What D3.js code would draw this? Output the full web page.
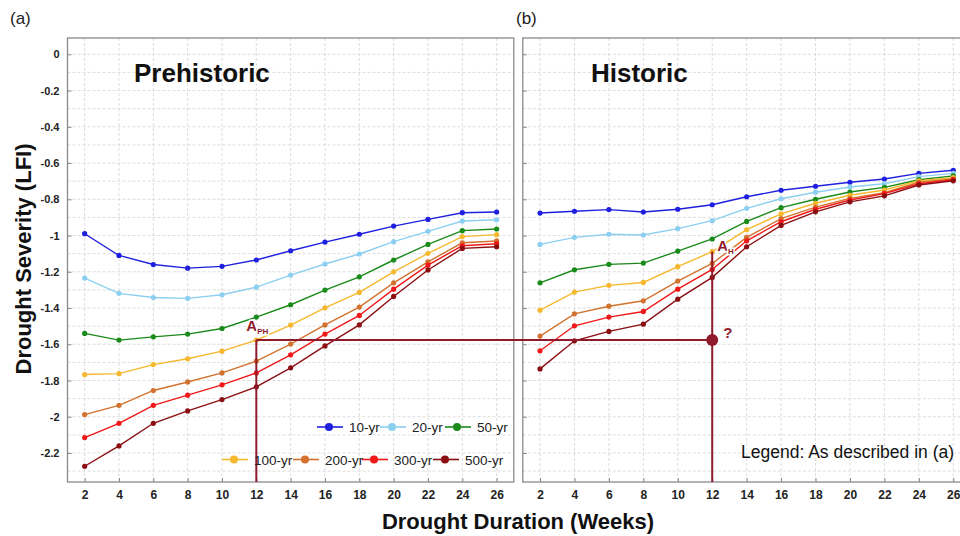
<!DOCTYPE html>
<html><head><meta charset="utf-8">
<script src="https://cdn.jsdelivr.net/npm/d3@7"></script>
<style>
body{margin:0;background:#fff;}
svg{display:block;font-family:"Liberation Sans",Arial,sans-serif;}
</style></head>
<body><svg id="c" width="960" height="536"></svg>
<script>
const weeks = [2,4,6,8,10,12,14,16,18,20,22,24,26];
const seriesNames = ["10-yr","20-yr","50-yr","100-yr","200-yr","300-yr","500-yr"];
const seriesColors = ["#1f1fe0","#8ccff0","#1a8a1a","#f5b82e","#d2722e","#f01818","#8b0f12"];
// Prehistoric (a)
const pre10  = [-0.99,-1.11,-1.16,-1.18,-1.17,-1.135,-1.084,-1.036,-0.993,-0.948,-0.911,-0.874,-0.870];
const pre20  = [-1.235,-1.319,-1.342,-1.347,-1.327,-1.285,-1.218,-1.157,-1.102,-1.034,-0.977,-0.920,-0.913];
const pre50  = [-1.540,-1.577,-1.559,-1.544,-1.513,-1.450,-1.382,-1.301,-1.228,-1.135,-1.049,-0.973,-0.964];
const pre100 = [-1.767,-1.762,-1.712,-1.680,-1.638,-1.577,-1.494,-1.399,-1.314,-1.200,-1.099,-1.006,-0.995];
const pre200 = [-1.988,-1.937,-1.855,-1.808,-1.758,-1.693,-1.599,-1.493,-1.395,-1.261,-1.145,-1.040,-1.030];
const pre300 = [-2.115,-2.036,-1.937,-1.881,-1.824,-1.758,-1.658,-1.544,-1.441,-1.296,-1.163,-1.056,-1.045];
const pre500 = [-2.273,-2.161,-2.036,-1.968,-1.905,-1.835,-1.730,-1.609,-1.493,-1.336,-1.190,-1.071,-1.062];
// Historic (b)
const his10  = [-0.876,-0.866,-0.857,-0.870,-0.855,-0.830,-0.786,-0.750,-0.728,-0.706,-0.688,-0.657,-0.640];
const his20  = [-1.049,-1.010,-0.993,-0.997,-0.962,-0.918,-0.850,-0.797,-0.761,-0.732,-0.714,-0.675,-0.657];
const his50  = [-1.261,-1.189,-1.159,-1.152,-1.086,-1.019,-0.922,-0.846,-0.800,-0.760,-0.734,-0.692,-0.671];
const his100 = [-1.412,-1.312,-1.275,-1.259,-1.172,-1.089,-0.968,-0.880,-0.822,-0.778,-0.749,-0.698,-0.681];
const his200 = [-1.555,-1.432,-1.390,-1.360,-1.251,-1.154,-1.010,-0.907,-0.843,-0.795,-0.764,-0.706,-0.688];
const his300 = [-1.636,-1.498,-1.450,-1.419,-1.296,-1.187,-1.029,-0.924,-0.855,-0.804,-0.769,-0.714,-0.692];
const his500 = [-1.736,-1.581,-1.529,-1.489,-1.351,-1.231,-1.062,-0.944,-0.869,-0.814,-0.781,-0.721,-0.698];
const yTicks = [0,-0.2,-0.4,-0.6,-0.8,-1,-1.2,-1.4,-1.6,-1.8,-2,-2.2];
const yMinor = [-0.1,-0.3,-0.5,-0.7,-0.9,-1.1,-1.3,-1.5,-1.7,-1.9,-2.1,-2.3];
const annotWeek = 12;
const annotValue = -1.577; // prehistoric 100-yr at 12 weeks
const histAnnotValue = -1.089; // historic 100-yr at 12 weeks

const preData = [pre10,pre20,pre50,pre100,pre200,pre300,pre500];
const hisData = [his10,his20,his50,his100,his200,his300,his500];

const svg = d3.select("#c");
const y = d3.scaleLinear().domain([-2.36,0.09]).range([482,38]);
const xL = d3.scaleLinear().domain([1,27]).range([67.5,513.8]);
const xR = d3.scaleLinear().domain([1,27]).range([522.8,970.5]);
const annotColor = "#8e1a2b";

function panel(x, data, showYLabels){
  const g = svg.append("g");
  const [x0,x1] = x.range(), [y0,y1] = [y.range()[1], y.range()[0]];
  // grid
  g.selectAll(".gy").data(yTicks.concat(yMinor)).join("line")
    .attr("x1",x0).attr("x2",x1).attr("y1",d=>y(d)).attr("y2",d=>y(d))
    .attr("stroke","#d4d4d4").attr("stroke-width",0.8).attr("stroke-dasharray","3,2");
  g.selectAll(".gx").data(weeks).join("line")
    .attr("x1",d=>x(d)).attr("x2",d=>x(d)).attr("y1",y0).attr("y2",y1)
    .attr("stroke","#d4d4d4").attr("stroke-width",0.8).attr("stroke-dasharray","3,2");
  // frame
  g.append("rect").attr("x",x0).attr("y",y0).attr("width",x1-x0).attr("height",y1-y0)
    .attr("fill","none").attr("stroke","#8a8a8a").attr("stroke-width",1.3);
  // axes
  const ya = d3.axisLeft(y).tickValues(yTicks).tickSize(-4).tickPadding(8)
    .tickFormat(d=>showYLabels ? d3.format("")(+d.toFixed(1)).replace("\u2212","-") : "");
  const yg = g.append("g").attr("transform",`translate(${x0},0)`).call(ya);
  yg.select(".domain").remove();
  yg.selectAll("line").attr("stroke","#8a8a8a");
  yg.selectAll("text").attr("font-size",11).attr("font-weight","bold").attr("fill","#222")
    .attr("font-family","Liberation Sans, Arial, sans-serif");
  const xa = d3.axisBottom(x).tickValues(weeks).tickSize(-4).tickPadding(8).tickFormat(d3.format("d"));
  const xg = g.append("g").attr("transform",`translate(0,${y1})`).call(xa);
  xg.select(".domain").remove();
  xg.selectAll("line").attr("stroke","#8a8a8a");
  xg.selectAll("text").attr("font-size",12).attr("font-weight","bold").attr("fill","#222")
    .attr("font-family","Liberation Sans, Arial, sans-serif");
  // series
  const line = d3.line().x((d,i)=>x(weeks[i])).y(d=>y(d));
  data.forEach((vals,k)=>{
    g.append("path").datum(vals).attr("d",line).attr("fill","none")
      .attr("stroke",seriesColors[k]).attr("stroke-width",1.4);
    g.selectAll(null).data(vals).join("circle")
      .attr("cx",(d,i)=>x(weeks[i])).attr("cy",d=>y(d)).attr("r",2.6)
      .attr("fill",seriesColors[k]);
  });
  return g;
}
panel(xL, preData, true);
panel(xR, hisData, false);

// annotation lines
const ax = xL(annotWeek), bx = xR(annotWeek), ay = y(annotValue);
svg.append("line").attr("x1",ax).attr("x2",bx).attr("y1",ay).attr("y2",ay)
  .attr("stroke",annotColor).attr("stroke-width",2);
svg.append("line").attr("x1",ax).attr("x2",ax).attr("y1",ay).attr("y2",y.range()[0])
  .attr("stroke",annotColor).attr("stroke-width",2);
svg.append("line").attr("x1",bx).attr("x2",bx).attr("y1",y(histAnnotValue)).attr("y2",y.range()[0])
  .attr("stroke",annotColor).attr("stroke-width",2);
svg.append("circle").attr("cx",bx).attr("cy",ay).attr("r",6).attr("fill",annotColor);
svg.append("text").attr("x",bx+11).attr("y",ay-2).text("?")
  .attr("font-size",15).attr("font-weight","bold").attr("fill",annotColor);

function subLabel(xp, yp, main, sub){
  const t = svg.append("text").attr("x",xp).attr("y",yp).attr("fill",annotColor)
    .attr("font-weight","bold").attr("stroke","#fff").attr("stroke-width",3)
    .attr("paint-order","stroke");
  t.append("tspan").text(main).attr("font-size",15);
  t.append("tspan").text(sub).attr("font-size",8).attr("dy",3);
}
subLabel(xL(annotWeek)-10, y(annotValue)-9, "A", "PH");
subLabel(xR(annotWeek)+5, y(histAnnotValue)-1, "A", "H");

// panel titles
svg.append("text").attr("x",134).attr("y",82).text("Prehistoric")
  .attr("font-size",26).attr("font-weight","bold").attr("fill","#111");
svg.append("text").attr("x",591).attr("y",82).text("Historic")
  .attr("font-size",26).attr("font-weight","bold").attr("fill","#111");
svg.append("text").attr("x",10).attr("y",24).text("(a)").attr("font-size",17).attr("fill","#222");
svg.append("text").attr("x",516).attr("y",24).text("(b)").attr("font-size",17).attr("fill","#222");

// axis titles
svg.append("text").attr("x",518).attr("y",529).attr("text-anchor","middle")
  .text("Drought Duration (Weeks)").attr("font-size",22).attr("font-weight","bold").attr("fill","#111");
svg.append("text").attr("transform","translate(31,259) rotate(-90)").attr("text-anchor","middle")
  .text("Drought Severity (LFI)").attr("font-size",22).attr("font-weight","bold").attr("fill","#111");

// legend
const legendRows = [
  {items:[0,1,2], y:427, xs:[317,380,445]},
  {items:[3,4,5,6], y:459.5, xs:[222,293,362,433]}
];
legendRows.forEach(row=>{
  row.items.forEach((k,j)=>{
    const lx = row.xs[j];
    svg.append("line").attr("x1",lx).attr("x2",lx+26).attr("y1",row.y).attr("y2",row.y)
      .attr("stroke",seriesColors[k]).attr("stroke-width",1.6);
    svg.append("circle").attr("cx",lx+12).attr("cy",row.y).attr("r",4).attr("fill",seriesColors[k]);
    svg.append("text").attr("x",lx+32).attr("y",row.y+5).text(seriesNames[k])
      .attr("font-size",13.5).attr("fill","#222");
  });
});
svg.append("text").attr("x",741).attr("y",458).text("Legend: As described in (a)")
  .attr("font-size",17.5).attr("fill","#111");
</script></body></html>
